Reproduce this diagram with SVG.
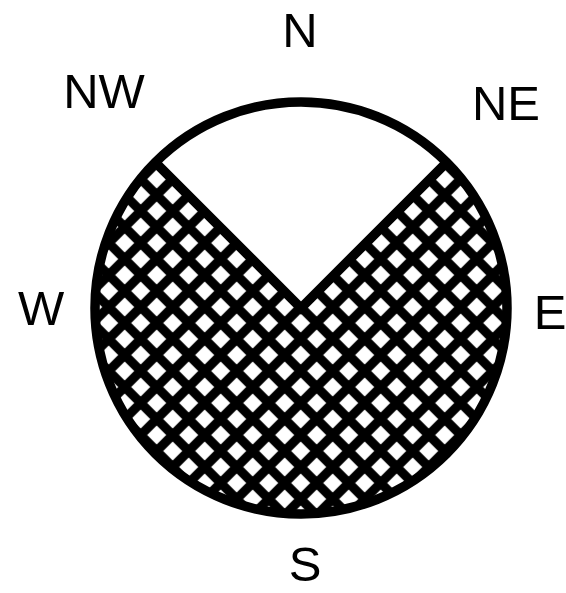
<svg xmlns="http://www.w3.org/2000/svg" width="566" height="593" viewBox="0 0 566 593">
  <style>
    .lbl { font-family: "Liberation Sans", Arial, sans-serif; font-size: 49px; fill: #000; text-anchor: middle; }
    .outline { fill: none; stroke: #000; stroke-width: 9.5; stroke-linejoin: miter; }
  </style>
  <defs>
    <pattern id="hatch" patternUnits="userSpaceOnUse" x="28.7" y="19" width="32" height="32">
      <rect x="0" y="0" width="32" height="32" fill="#000"/>
      <path d="M16 6.5 L25.5 16 L16 25.5 L6.5 16 Z M0 -9.5 L9.5 0 L0 9.5 L-9.5 0 Z M32 -9.5 L41.5 0 L32 9.5 L22.5 0 Z M0 22.5 L9.5 32 L0 41.5 L-9.5 32 Z M32 22.5 L41.5 32 L32 41.5 L22.5 32 Z" fill="#fff"/>
    </pattern>
  </defs>
  <rect width="566" height="593" fill="#fff"/>
  <g id="rose">
    <circle cx="301" cy="308" r="206" fill="#fff"/>
    <path d="M301 308 L155.3 162.3 A206 206 0 1 0 446.7 162.3 Z" fill="url(#hatch)"/>
    <circle class="outline" cx="301" cy="308" r="206"/>
    <path class="outline" d="M155.3 162.3 L301 308 L446.7 162.3"/>
  </g>
  <g id="labels">
    <text id="N" class="lbl" x="300" y="47">N</text>
    <text id="NW" class="lbl" x="104" y="108">NW</text>
    <text id="NE" class="lbl" x="506" y="120">NE</text>
    <text id="W" class="lbl" x="41" y="325">W</text>
    <text id="E" class="lbl" x="550" y="329">E</text>
    <text id="S" class="lbl" x="305" y="581">S</text>
  </g>
</svg>
